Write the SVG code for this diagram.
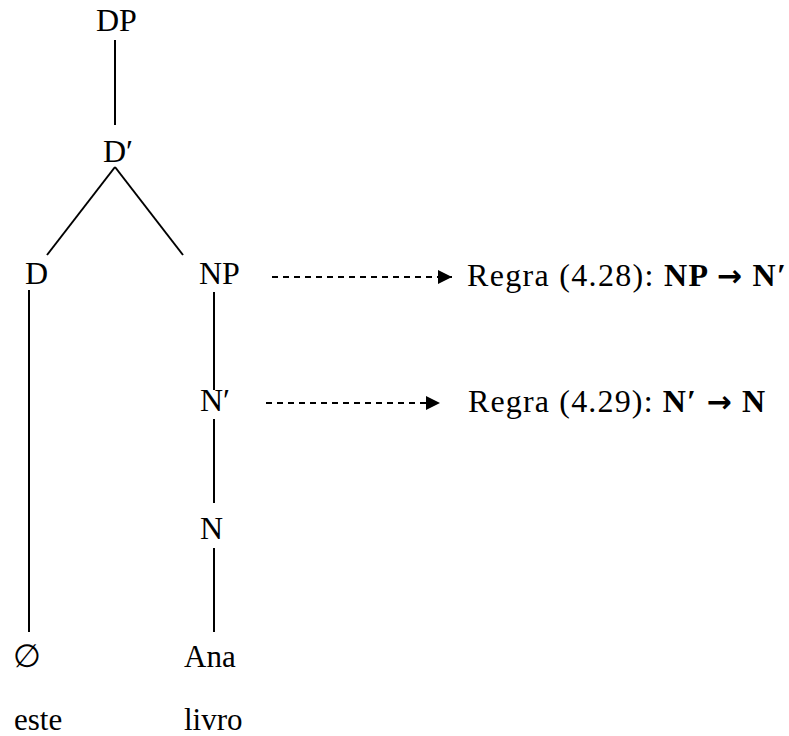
<svg xmlns="http://www.w3.org/2000/svg" width="789" height="736" viewBox="0 0 789 736">
<style>
.t{font-family:"Liberation Serif","Times New Roman",serif;font-size:32px;fill:#000}
.p{font-family:"Liberation Serif","Times New Roman",serif;font-size:31px;fill:#000}
.r{font-family:"Liberation Serif","Times New Roman",serif;font-size:32px;fill:#000}
.b{font-weight:bold}
.ar{font-family:"DejaVu Sans",sans-serif;font-weight:bold;font-size:30px}
.e{stroke:#000;stroke-width:2;fill:none}
.d{stroke:#000;stroke-width:2;fill:none;stroke-dasharray:6 5}
</style>
<defs>
<marker id="ah" viewBox="0 0 10 10" refX="10" refY="5" markerWidth="14" markerHeight="14" markerUnits="userSpaceOnUse" orient="auto">
<path d="M0,0 L10,5 L0,10 Z" fill="#000"/>
</marker>
</defs>
<rect width="789" height="736" fill="#fff"/>
<g id="edges">
<line class="e" x1="115" y1="40" x2="115" y2="125"/>
<line class="e" x1="115" y1="167" x2="47" y2="255"/>
<line class="e" x1="115" y1="167" x2="183" y2="255"/>
<line class="e" x1="29" y1="290" x2="29" y2="632"/>
<line class="e" x1="214" y1="292" x2="214" y2="390"/>
<line class="e" x1="214" y1="419" x2="214" y2="503"/>
<line class="e" x1="214" y1="548" x2="214" y2="632"/>
<line class="d" x1="272" y1="277" x2="452" y2="277" marker-end="url(#ah)"/>
<line class="d" x1="266" y1="403" x2="440" y2="403" marker-end="url(#ah)"/>
</g>
<g id="n-DP"><text class="t" x="96" y="31">DP</text></g>
<g id="n-Dbar"><text class="t" x="103" y="162">D′</text></g>
<g id="n-D"><text class="t" x="25" y="284">D</text></g>
<g id="n-NP"><text class="t" x="199" y="284">NP</text></g>
<g id="n-Nbar"><text class="t" x="200" y="411">N′</text></g>
<g id="n-N"><text class="t" x="200" y="539">N</text></g>
<g id="n-empty"><text class="t" x="13" y="667">∅</text></g>
<g id="n-Ana"><text class="p" x="184" y="667">Ana</text></g>
<g id="n-este"><text class="p" x="14" y="730">este</text></g>
<g id="n-livro"><text class="p" x="184" y="730">livro</text></g>
<g id="rule1"><text class="r" x="467" y="286" textLength="319" lengthAdjust="spacing">Regra (4.28): <tspan class="b">NP <tspan class="ar">→</tspan> N′</tspan></text></g>
<g id="rule2"><text class="r" x="468" y="412" textLength="297" lengthAdjust="spacing">Regra (4.29): <tspan class="b">N′ <tspan class="ar">→</tspan> N</tspan></text></g>
</svg>
